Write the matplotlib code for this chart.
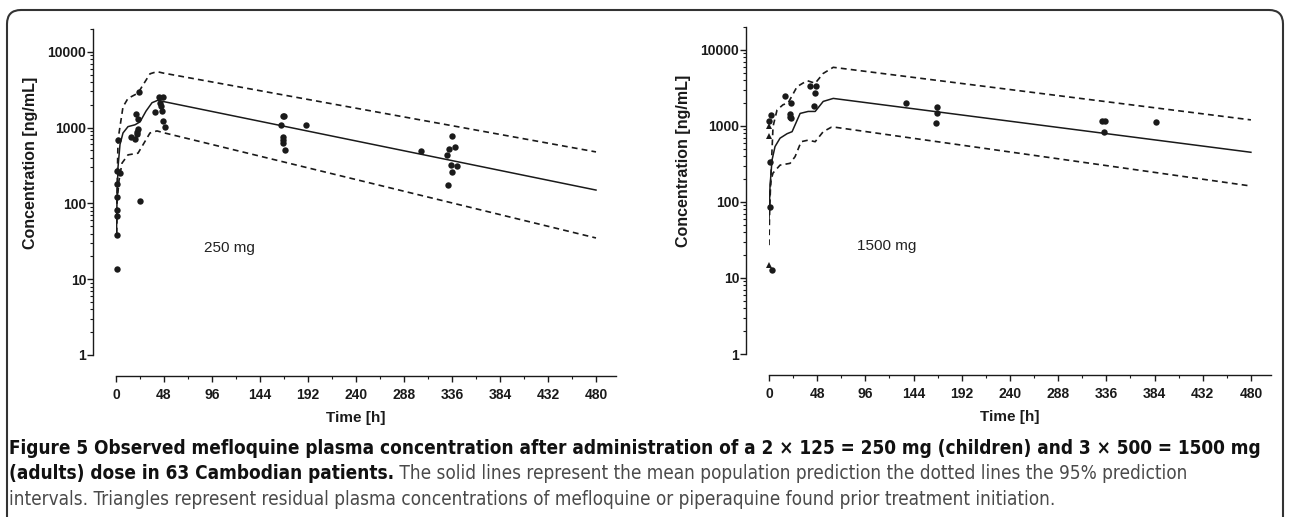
import matplotlib
matplotlib.use("Agg")
import matplotlib.pyplot as plt
from matplotlib import font_manager
from matplotlib.patches import FancyBboxPatch
from matplotlib.transforms import IdentityTransform
from matplotlib.ticker import FixedLocator, LogLocator, MultipleLocator, NullFormatter, FuncFormatter

# ---- 250 mg (children) ----
mean_250_t = [0.5, 1, 2, 4, 7, 12, 19, 24, 30, 36, 42, 48, 480]
mean_250_c = [40, 112, 300, 600, 850, 1030, 1090, 1190, 1650, 2130, 2300, 2200, 150]
up_250_t = [0.5, 1, 2, 7, 12, 22, 27, 34, 41, 47, 480]
up_250_c = [40, 123, 690, 1880, 2430, 2850, 3650, 5130, 5480, 5250, 478]
low_250_t = [0.5, 1, 3, 6, 12, 22, 28, 34, 41, 47, 480]
low_250_c = [40, 100, 200, 340, 437, 460, 625, 850, 905, 860, 35]
obs_250_t = [2, 1, 4, 1, 1, 1, 1, 1, 1, 24, 23, 20, 22, 15, 19, 21, 22, 21,
             39, 43, 47, 44, 45, 46, 47, 49, 165, 167, 168, 167, 167, 167, 169,
             190, 305, 336, 333, 339, 331, 335, 341, 336, 332]
obs_250_c = [690, 270, 252, 181, 120, 82, 68, 38, 13.5, 109, 2930, 1500, 1310, 760, 707, 825, 960, 880,
             1620, 2560, 2520, 2100, 1940, 1660, 1240, 1010, 1090, 1410, 1430, 745, 690, 635, 500,
             1070, 495, 780, 520, 550, 435, 322, 313, 258, 175]

# ---- 1500 mg (adults) ----
mean_1500_t = [0, 1, 3, 6, 11, 18, 23, 31, 39, 46, 54, 64, 480]
mean_1500_c = [58, 159, 355, 535, 690, 790, 840, 1460, 1550, 1550, 2100, 2300, 450]
up_1500_t = [0, 0.5, 1.5, 3, 4, 8, 14, 19, 28, 38, 46, 54, 64, 480]
up_1500_c = [27, 64, 159, 480, 980, 1620, 1900, 2000, 3290, 3940, 3640, 4900, 5900, 1200]
low_1500_t = [0, 1, 2, 4, 11, 21, 26, 32, 39, 46, 54, 62, 66, 480]
low_1500_c = [87, 140, 195, 240, 305, 322, 395, 620, 650, 620, 840, 960, 960, 162]
obs_1500_t = [1, 1, 2, 0, 3, 16, 22, 21, 21, 22, 41, 47, 46, 45, 136, 167, 167, 166, 332, 335, 334, 385]
obs_1500_c = [340, 87, 1400, 1170, 12.7, 2480, 2000, 1420, 1320, 1260, 3370, 3370, 2750, 1820,
              2000, 1790, 1500, 1100, 1160, 1170, 820, 1130]
tri_1500_t = [0, 0, 0]
tri_1500_c = [1000, 740, 14.8]

x_ticks = list(range(0, 481, 48))
y_ticks = [1, 10, 100, 1000, 10000]

INK = "#1a1a1a"
plt.rcParams["font.family"] = ["Liberation Sans", "DejaVu Sans"]
plt.rcParams["font.weight"] = "bold"

# caption font: a narrow face if one is installed
installed = {f.name for f in font_manager.fontManager.ttflist}
condensed = [f.name for f in font_manager.fontManager.ttflist
             if f.stretch in ("condensed", "semi-condensed", "extra-condensed") or "Narrow" in f.name
             or "Condensed" in f.name]
if "Liberation Sans Narrow" in installed:
    cap_family, cap_stretch = ["Liberation Sans Narrow"], "normal"
elif condensed:
    cap_family, cap_stretch = [condensed[0]], "condensed"
else:
    cap_family, cap_stretch = ["DejaVu Sans"], "normal"


def plot_panel(ax, mean_t, mean_c, up_t, up_c, low_t, low_c, obs_t, obs_c, dose, tri_t=None, tri_c=None):
    ax.plot(mean_t, mean_c, color=INK, lw=1.1)
    ax.plot(up_t, up_c, color=INK, lw=1.2, ls=(0, (3.5, 2.5)))
    ax.plot(low_t, low_c, color=INK, lw=1.2, ls=(0, (3.5, 2.5)))
    ax.plot(obs_t, obs_c, "o", color=INK, ms=4.6, mew=0, clip_on=False)
    if tri_t is not None:
        ax.plot(tri_t, tri_c, "^", color=INK, ms=4.6, mew=0, clip_on=False)
    ax.text(88, 26, dose, fontsize=11, fontweight="normal", color="#222222", va="center")

    ax.set_yscale("log")
    ax.set_ylim(1, 2e4)
    ax.set_xlim(0, 500)
    ax.xaxis.set_major_locator(FixedLocator(x_ticks))
    ax.xaxis.set_minor_locator(MultipleLocator(24))
    ax.yaxis.set_major_locator(FixedLocator(y_ticks))
    ax.yaxis.set_major_formatter(FuncFormatter(lambda v, p: f"{v:g}"))
    ax.yaxis.set_minor_locator(LogLocator(base=10, subs=range(2, 10), numticks=20))
    ax.yaxis.set_minor_formatter(NullFormatter())

    for s in ["top", "right"]:
        ax.spines[s].set_visible(False)
    ax.spines["left"].set_position(("outward", 16.5))
    ax.spines["bottom"].set_position(("outward", 15))
    for s in ["left", "bottom"]:
        ax.spines[s].set_linewidth(1.0)
        ax.spines[s].set_color(INK)
    ax.tick_params(which="major", length=4, width=1, color=INK, labelsize=10, labelcolor=INK)
    ax.tick_params(which="minor", length=2, width=0.8, color=INK)
    ax.tick_params(axis="y", pad=1)
    ax.tick_params(axis="x", pad=5)

    ax.set_ylabel("Concentration [ng/mL]", fontsize=11.5, fontweight="bold", color=INK)
    ax.yaxis.set_label_coords(-0.155, 0.59)
    ax.set_xlabel("Time [h]", fontsize=11, fontweight="bold", color=INK)
    ax.xaxis.set_label_coords(0.48, -0.172)


fig = plt.figure(figsize=(12.9, 5.17), dpi=100)
ax1 = fig.add_axes([116 / 1290, 162 / 517, 500 / 1290, 326 / 517])
ax2 = fig.add_axes([769 / 1290, 163 / 517, 502 / 1290, 327 / 517])
plot_panel(ax1, mean_250_t, mean_250_c, up_250_t, up_250_c, low_250_t, low_250_c,
           obs_250_t, obs_250_c, "250 mg")
plot_panel(ax2, mean_1500_t, mean_1500_c, up_1500_t, up_1500_c, low_1500_t, low_1500_c,
           obs_1500_t, obs_1500_c, "1500 mg", tri_1500_t, tri_1500_c)

# frame round the figure and its caption
frame = FancyBboxPatch((7, -30), 1276, 537, boxstyle="round,pad=0,rounding_size=14",
                       transform=IdentityTransform(), fill=False, ec="#333333", lw=1.5)
fig.add_artist(frame)

line1 = ("Figure 5 Observed mefloquine plasma concentration after administration of a "
         "2 × 125 = 250 mg (children) and 3 × 500 = 1500 mg")
line2a = "(adults) dose in 63 Cambodian patients."
line2b = (" The solid lines represent the mean population prediction the dotted lines "
          "the 95% prediction")
line3 = ("intervals. Triangles represent residual plasma concentrations of mefloquine or "
         "piperaquine found prior treatment initiation.")

cap = dict(family=cap_family, stretch=cap_stretch)
t1 = fig.text(9 / 1290, 63 / 517, line1, fontsize=13, weight="bold", color="#111111", **cap)
fig.canvas.draw()
size = 13 * 1246 / t1.get_window_extent().width
t1.set_fontsize(size)
t2a = fig.text(9 / 1290, 38 / 517, line2a, fontsize=size, weight="bold", color="#111111", **cap)
t3 = fig.text(9 / 1290, 12 / 517, line3, fontsize=size, weight="normal", color="#4a4a4a", **cap)
fig.canvas.draw()
x_end = t2a.get_window_extent().x1
fig.text(x_end / 1290, 38 / 517, line2b, fontsize=size, weight="normal", color="#4a4a4a", **cap)

fig.savefig("out.png", dpi=100)
